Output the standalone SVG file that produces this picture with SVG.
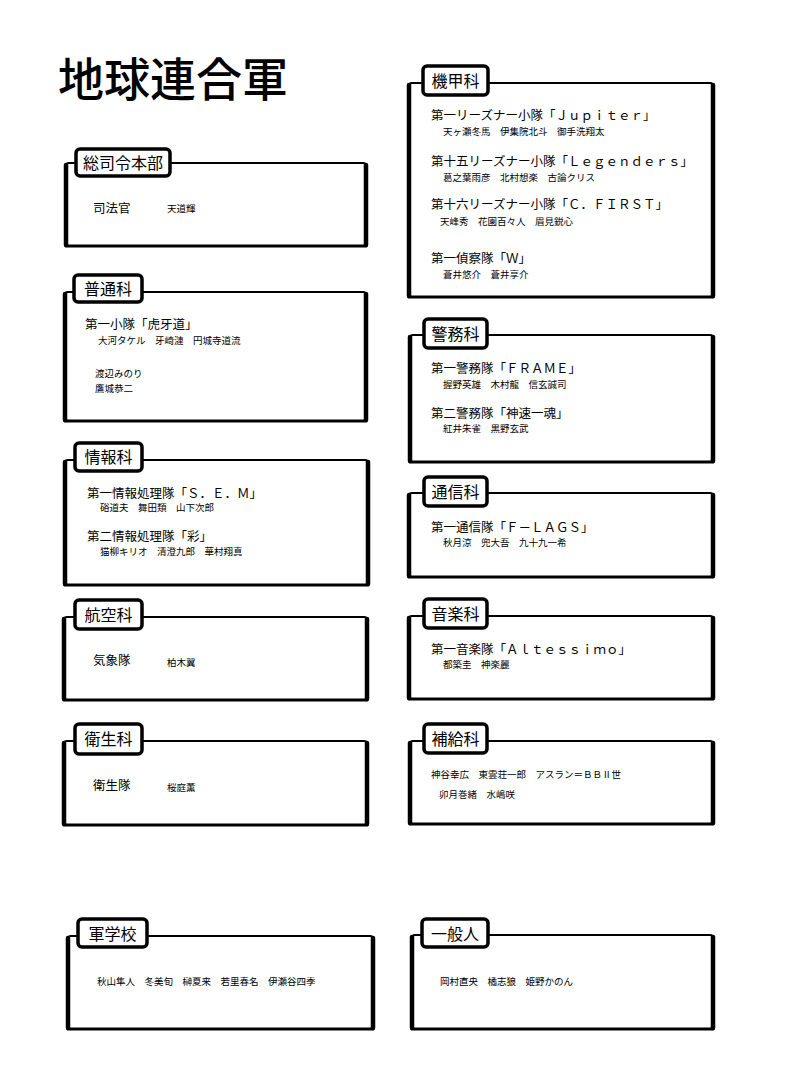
<svg xmlns="http://www.w3.org/2000/svg" width="800" height="1066" viewBox="0 0 800 1066">
<style>
text { font-family: "Noto Sans CJK JP", "Noto Sans CJK SC", sans-serif; fill: #000; }
.title { font-size: 46px; font-weight: 500; }
.tabtxt { font-size: 16px; text-anchor: middle; }
.sub { font-size: 12.5px; }
.nm { font-size: 9.5px; }
.frame { fill: none; stroke: #000; stroke-width: 2; }
.bot { stroke: #000; stroke-width: 3; stroke-linecap: round; }
.side { stroke: #000; stroke-width: 4.5; stroke-linecap: round; }
.tab { fill: #fff; stroke: #000; stroke-width: 3.5; }
</style>
<rect width="800" height="1066" fill="#fff"/>
<text class="title" x="58" y="96">地球連合軍</text>
<g id="connectors"/>

<g id="sousireihonbu">
<rect class="frame" x="66" y="163" width="300" height="83" rx="3"/>
<line class="bot" x1="66" y1="246" x2="366" y2="246"/>
<line class="side" x1="66" y1="165" x2="66" y2="245"/>
<line class="side" x1="366" y1="165" x2="366" y2="245"/>
<rect class="tab" x="76" y="149" width="94" height="27" rx="4"/>
<text class="tabtxt" x="123" y="169">総司令本部</text>
<text class="sub" x="93" y="213">司法官</text>
<text class="nm" x="167" y="212">天道輝</text>
</g>

<g id="futsuuka">
<rect class="frame" x="65" y="292" width="301" height="129" rx="3"/>
<line class="bot" x1="65" y1="421" x2="366" y2="421"/>
<line class="side" x1="65" y1="294" x2="65" y2="420"/>
<line class="side" x1="366" y1="294" x2="366" y2="420"/>
<rect class="tab" x="74" y="275" width="68" height="27" rx="4"/>
<text class="tabtxt" x="108" y="295">普通科</text>
<text class="sub" x="85" y="329">第一小隊「虎牙道」</text>
<text class="nm" x="98" y="344">大河タケル　牙崎漣　円城寺道流</text>
<text class="nm" x="95" y="377">渡辺みのり</text>
<text class="nm" x="95" y="392">鷹城恭二</text>
</g>

<g id="jouhouka">
<rect class="frame" x="65" y="460" width="303" height="125" rx="3"/>
<line class="bot" x1="65" y1="585" x2="368" y2="585"/>
<line class="side" x1="65" y1="462" x2="65" y2="584"/>
<line class="side" x1="368" y1="462" x2="368" y2="584"/>
<rect class="tab" x="75" y="443" width="67" height="28" rx="4"/>
<text class="tabtxt" x="108.5" y="463">情報科</text>
<text class="sub" x="87" y="498">第一情報処理隊「Ｓ．Ｅ．Ｍ」</text>
<text class="nm" x="100" y="511">硲道夫　舞田類　山下次郎</text>
<text class="sub" x="87" y="541">第二情報処理隊「彩」</text>
<text class="nm" x="100" y="555">猫柳キリオ　清澄九郎　華村翔真</text>
</g>

<g id="koukuuka">
<rect class="frame" x="64" y="617" width="303" height="83" rx="3"/>
<line class="bot" x1="64" y1="700" x2="367" y2="700"/>
<line class="side" x1="64" y1="619" x2="64" y2="699"/>
<line class="side" x1="367" y1="619" x2="367" y2="699"/>
<rect class="tab" x="75" y="600" width="67" height="29" rx="4"/>
<text class="tabtxt" x="108.5" y="621">航空科</text>
<text class="sub" x="93" y="665">気象隊</text>
<text class="nm" x="167" y="666">柏木翼</text>
</g>

<g id="eiseika">
<rect class="frame" x="64" y="741" width="303" height="84" rx="3"/>
<line class="bot" x1="64" y1="825" x2="367" y2="825"/>
<line class="side" x1="64" y1="743" x2="64" y2="824"/>
<line class="side" x1="367" y1="743" x2="367" y2="824"/>
<rect class="tab" x="75" y="724" width="67" height="30" rx="4"/>
<text class="tabtxt" x="108.5" y="745">衛生科</text>
<text class="sub" x="93" y="790">衛生隊</text>
<text class="nm" x="167" y="791">桜庭薫</text>
</g>

<g id="gungakkou">
<rect class="frame" x="68" y="936" width="305" height="93" rx="3"/>
<line class="bot" x1="68" y1="1029" x2="373" y2="1029"/>
<line class="side" x1="68" y1="938" x2="68" y2="1028"/>
<line class="side" x1="373" y1="938" x2="373" y2="1028"/>
<rect class="tab" x="78" y="919" width="69" height="28" rx="4"/>
<text class="tabtxt" x="112.5" y="940">軍学校</text>
<text class="nm" x="97" y="985">秋山隼人　冬美旬　榊夏来　若里春名　伊瀬谷四季</text>
</g>

<g id="kikouka">
<rect class="frame" x="409" y="83" width="304" height="214" rx="3"/>
<line class="bot" x1="409" y1="297" x2="713" y2="297"/>
<line class="side" x1="409" y1="85" x2="409" y2="296"/>
<line class="side" x1="713" y1="85" x2="713" y2="296"/>
<rect class="tab" x="423" y="66" width="65" height="29" rx="4"/>
<text class="tabtxt" x="455.5" y="87">機甲科</text>
<text class="sub" x="431" y="120">第一リーズナー小隊「Ｊｕｐｉｔｅｒ」</text>
<text class="nm" x="443" y="135">天ヶ瀬冬馬　伊集院北斗　御手洗翔太</text>
<text class="sub" x="431" y="166">第十五リーズナー小隊「Ｌｅｇｅｎｄｅｒｓ」</text>
<text class="nm" x="443" y="181">葛之葉雨彦　北村想楽　古論クリス</text>
<text class="sub" x="431" y="209">第十六リーズナー小隊「Ｃ．ＦＩＲＳＴ」</text>
<text class="nm" x="440" y="225">天峰秀　花園百々人　眉見鋭心</text>
<text class="sub" x="431" y="263">第一偵察隊「Ｗ」</text>
<text class="nm" x="443" y="278">蒼井悠介　蒼井享介</text>
</g>

<g id="keimuka">
<rect class="frame" x="410" y="335" width="303" height="127" rx="3"/>
<line class="bot" x1="410" y1="462" x2="713" y2="462"/>
<line class="side" x1="410" y1="337" x2="410" y2="461"/>
<line class="side" x1="713" y1="337" x2="713" y2="461"/>
<rect class="tab" x="424" y="319" width="63" height="29" rx="4"/>
<text class="tabtxt" x="455.5" y="340">警務科</text>
<text class="sub" x="431" y="373">第一警務隊「ＦＲＡＭＥ」</text>
<text class="nm" x="443" y="388">握野英雄　木村龍　信玄誠司</text>
<text class="sub" x="431" y="418">第二警務隊「神速一魂」</text>
<text class="nm" x="443" y="432">紅井朱雀　黒野玄武</text>
</g>

<g id="tsuushinka">
<rect class="frame" x="409" y="493" width="304" height="84" rx="3"/>
<line class="bot" x1="409" y1="577" x2="713" y2="577"/>
<line class="side" x1="409" y1="495" x2="409" y2="576"/>
<line class="side" x1="713" y1="495" x2="713" y2="576"/>
<rect class="tab" x="424" y="477" width="63" height="29" rx="4"/>
<text class="tabtxt" x="455.5" y="498">通信科</text>
<text class="sub" x="431" y="532">第一通信隊「Ｆ－ＬＡＧＳ」</text>
<text class="nm" x="443" y="546">秋月涼　兜大吾　九十九一希</text>
</g>

<g id="ongakuka">
<rect class="frame" x="409" y="616" width="304" height="83" rx="3"/>
<line class="bot" x1="409" y1="699" x2="713" y2="699"/>
<line class="side" x1="409" y1="618" x2="409" y2="698"/>
<line class="side" x1="713" y1="618" x2="713" y2="698"/>
<rect class="tab" x="424" y="599" width="63" height="29" rx="4"/>
<text class="tabtxt" x="455.5" y="620">音楽科</text>
<text class="sub" x="431" y="654">第一音楽隊「Ａｌｔｅｓｓｉｍｏ」</text>
<text class="nm" x="443" y="668">都築圭　神楽麗</text>
</g>

<g id="hokyuuka">
<rect class="frame" x="410" y="741" width="303" height="83" rx="3"/>
<line class="bot" x1="410" y1="824" x2="713" y2="824"/>
<line class="side" x1="410" y1="743" x2="410" y2="823"/>
<line class="side" x1="713" y1="743" x2="713" y2="823"/>
<rect class="tab" x="424" y="724" width="63" height="29" rx="4"/>
<text class="tabtxt" x="455.5" y="745">補給科</text>
<text class="nm" x="431" y="778">神谷幸広　東雲荘一郎　アスラン＝ＢＢⅡ世</text>
<text class="nm" x="439" y="798">卯月巻緒　水嶋咲</text>
</g>

<g id="ippanjin">
<rect class="frame" x="412" y="935" width="301" height="94" rx="3"/>
<line class="bot" x1="412" y1="1029" x2="713" y2="1029"/>
<line class="side" x1="412" y1="937" x2="412" y2="1028"/>
<line class="side" x1="713" y1="937" x2="713" y2="1028"/>
<rect class="tab" x="422" y="919" width="66" height="28" rx="4"/>
<text class="tabtxt" x="455" y="940">一般人</text>
<text class="nm" x="440" y="985">岡村直央　橘志狼　姫野かのん</text>
</g>
</svg>
